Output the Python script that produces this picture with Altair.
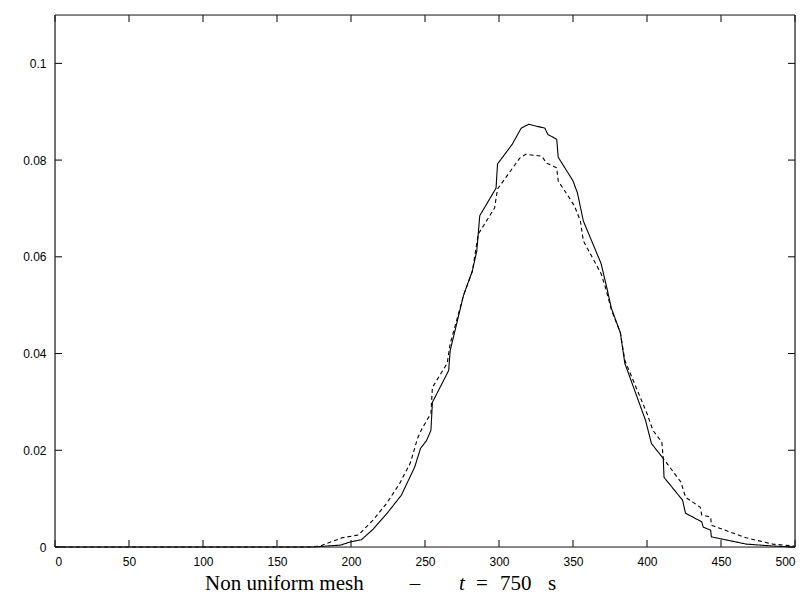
import altair as alt
import pandas as pd

# Solid curve (non uniform mesh)
x_solid = [0, 150, 175, 193, 199, 205, 207, 215, 225, 234, 243, 247, 251, 254, 255,
           266, 267, 276, 282, 285, 287, 298, 299, 309, 315, 320, 331, 333, 339, 340,
           350, 353, 357, 369, 373, 376, 382, 385, 399, 403, 411, 411.5, 424, 426,
           437, 438, 443, 443.5, 467, 485, 500]
y_solid = [0, 0, 0, 0.0004, 0.001, 0.0014, 0.0015, 0.0037, 0.0072, 0.0107, 0.0165,
           0.0204, 0.022, 0.0241, 0.0299, 0.0365, 0.0406, 0.052, 0.0571, 0.0612,
           0.0685, 0.0742, 0.0792, 0.0833, 0.0866, 0.0874, 0.0866, 0.0853, 0.0843,
           0.0806, 0.0757, 0.0732, 0.0674, 0.0586, 0.0534, 0.0493, 0.0443, 0.038,
           0.0262, 0.0214, 0.0183, 0.0144, 0.0097, 0.007, 0.0052, 0.0041, 0.0035,
           0.0021, 0.0006, 0.0002, 0]

# Dashed curve
x_dashed = [0, 170, 179, 194, 205, 215, 224, 233, 240, 245, 248, 254, 255, 265, 267,
            276, 282, 286, 297, 299, 314, 318, 329, 332, 339, 340, 349, 351, 355, 357,
            369, 372, 376, 382, 385, 400, 404, 410, 411, 423, 426, 436, 437, 443,
            443.5, 467, 485, 499, 500]
y_dashed = [0, 0, 0.0002, 0.0019, 0.0025, 0.0056, 0.009, 0.0132, 0.0173, 0.0225,
            0.0245, 0.0276, 0.033, 0.038, 0.042, 0.052, 0.057, 0.0647, 0.0701, 0.074,
            0.0804, 0.0812, 0.0808, 0.0794, 0.0784, 0.0757, 0.0715, 0.0705, 0.0674,
            0.0633, 0.0565, 0.0536, 0.049, 0.0443, 0.0386, 0.0276, 0.0241, 0.0217,
            0.0183, 0.0134, 0.0103, 0.0082, 0.0066, 0.0062, 0.0045, 0.0019, 0.0006,
            0.0002, 0]

x_ticks = [0, 50, 100, 150, 200, 250, 300, 350, 400, 450, 500]
y_ticks = [0, 0.02, 0.04, 0.06, 0.08, 0.1]

W, H = 740, 532
TICK = 7
LABEL_FONT = "Liberation Sans"
SERIF = "Liberation Serif"

df = pd.concat([
    pd.DataFrame({"x": x_solid, "y": y_solid, "series": "solid",
                  "i": range(len(x_solid))}),
    pd.DataFrame({"x": x_dashed, "y": y_dashed, "series": "dashed",
                  "i": range(len(x_dashed))}),
], ignore_index=True)

xs = alt.Scale(domain=[0, 500], nice=False, zero=False)
ys = alt.Scale(domain=[0, 0.11], nice=False, zero=False)

x_axis = alt.Axis(values=x_ticks, tickSize=0, labelPadding=9, domain=False,
                  grid=False, title=None, format="d", labelFont=LABEL_FONT,
                  labelFontSize=12, labelColor="black")
y_axis = alt.Axis(values=y_ticks, tickSize=0, labelPadding=9, domain=False,
                  grid=False, title=None, format="~g", labelFont=LABEL_FONT,
                  labelFontSize=12, labelColor="black")

lines = alt.Chart(df).mark_line(color="black", strokeWidth=1.1).encode(
    x=alt.X("x:Q", scale=xs, axis=x_axis),
    y=alt.Y("y:Q", scale=ys, axis=y_axis),
    strokeDash=alt.StrokeDash("series:N",
                              scale=alt.Scale(domain=["solid", "dashed"],
                                              range=[[1, 0], [4, 3]]),
                              legend=None),
    detail="series:N",
    order=alt.Order("i:Q"),
)

xt = pd.DataFrame({"v": x_ticks})
yt = pd.DataFrame({"v": y_ticks})

bottom_ticks = alt.Chart(xt).mark_rule(color="black", strokeWidth=1).encode(
    x=alt.X("v:Q", scale=xs), y=alt.value(H), y2=alt.value(H - TICK))
top_ticks = alt.Chart(xt).mark_rule(color="black", strokeWidth=1).encode(
    x=alt.X("v:Q", scale=xs), y=alt.value(0), y2=alt.value(TICK))
left_ticks = alt.Chart(yt).mark_rule(color="black", strokeWidth=1).encode(
    y=alt.Y("v:Q", scale=ys), x=alt.value(0), x2=alt.value(TICK))
right_ticks = alt.Chart(yt).mark_rule(color="black", strokeWidth=1).encode(
    y=alt.Y("v:Q", scale=ys), x=alt.value(W), x2=alt.value(W - TICK))

one = pd.DataFrame({"a": [0]})
frame_top = alt.Chart(one).mark_rule(color="#222", strokeWidth=1.2).encode(
    x=alt.value(0), x2=alt.value(W), y=alt.value(0))
frame_bottom = alt.Chart(one).mark_rule(color="#222", strokeWidth=1.2).encode(
    x=alt.value(0), x2=alt.value(W), y=alt.value(H))
frame_left = alt.Chart(one).mark_rule(color="#222", strokeWidth=1.2).encode(
    y=alt.value(0), y2=alt.value(H), x=alt.value(0))
frame_right = alt.Chart(one).mark_rule(color="#222", strokeWidth=1.2).encode(
    y=alt.value(0), y2=alt.value(H), x=alt.value(W))

title_y = 569


def label(txt, x, align="left", style="normal"):
    return alt.Chart(one).mark_text(
        text=txt, font=SERIF, fontSize=21, fontStyle=style, align=align,
        baseline="middle", color="black").encode(x=alt.value(x), y=alt.value(title_y))


t1 = label("Non uniform mesh", 150)
t2 = label("–", 360, align="center")
t3 = label("t", 404, style="italic")
t4 = label("=", 421)
t5 = label("750", 445)
t6 = label("s", 493)

chart = alt.layer(
    lines, bottom_ticks, top_ticks, left_ticks, right_ticks,
    frame_top, frame_bottom, frame_left, frame_right,
    t1, t2, t3, t4, t5, t6
).properties(
    width=W, height=H,
    autosize=alt.AutoSizeParams(type="none"),
    padding={"left": 47, "top": 7, "right": 5, "bottom": 50},
).configure_view(stroke=None).configure(background="white")

chart.save("out.html", embed_options={"renderer": "svg", "actions": False})
